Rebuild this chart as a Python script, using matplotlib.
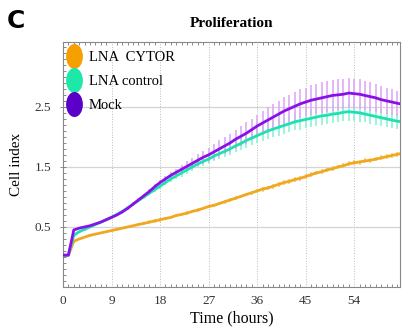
import numpy as np
import matplotlib
matplotlib.use("Agg")
import matplotlib.pyplot as plt
from matplotlib.lines import Line2D
from matplotlib.path import Path
from matplotlib.transforms import Affine2D
from matplotlib.ticker import MultipleLocator

hours = np.arange(0, 64)

mock = [0.03, 0.03, 0.45, 0.48, 0.50, 0.52, 0.55, 0.58, 0.62, 0.66,
        0.70, 0.75, 0.81, 0.88, 0.95, 1.02, 1.09, 1.17, 1.24, 1.30,
        1.36, 1.41, 1.46, 1.51, 1.56, 1.61, 1.66, 1.70, 1.75, 1.80,
        1.85, 1.90, 1.96, 2.01, 2.06, 2.12, 2.18, 2.23, 2.28, 2.33,
        2.38, 2.43, 2.47, 2.51, 2.55, 2.58, 2.61, 2.63, 2.65, 2.67,
        2.69, 2.70, 2.71, 2.73, 2.72, 2.71, 2.69, 2.67, 2.65, 2.62,
        2.60, 2.58, 2.56, 2.54]
lna_ctrl = [0.03, 0.03, 0.36, 0.42, 0.46, 0.50, 0.54, 0.58, 0.62, 0.66,
            0.71, 0.76, 0.82, 0.88, 0.94, 1.00, 1.06, 1.12, 1.18, 1.24,
            1.30, 1.35, 1.40, 1.45, 1.50, 1.55, 1.59, 1.63, 1.68, 1.72,
            1.76, 1.80, 1.85, 1.89, 1.94, 1.98, 2.02, 2.06, 2.10, 2.13,
            2.16, 2.19, 2.22, 2.25, 2.27, 2.29, 2.31, 2.33, 2.35, 2.36,
            2.38, 2.39, 2.41, 2.42, 2.41, 2.40, 2.38, 2.36, 2.34, 2.32,
            2.30, 2.28, 2.26, 2.25]
lna_cytor = [0.03, 0.03, 0.26, 0.30, 0.33, 0.36, 0.38, 0.40, 0.42, 0.44,
             0.46, 0.48, 0.50, 0.52, 0.54, 0.56, 0.58, 0.60, 0.62, 0.64,
             0.66, 0.69, 0.71, 0.73, 0.76, 0.78, 0.81, 0.84, 0.86, 0.89,
             0.92, 0.95, 0.98, 1.01, 1.04, 1.07, 1.10, 1.13, 1.15, 1.18,
             1.21, 1.24, 1.26, 1.29, 1.31, 1.34, 1.37, 1.40, 1.42, 1.45,
             1.47, 1.50, 1.52, 1.55, 1.57, 1.58, 1.60, 1.61, 1.63, 1.65,
             1.67, 1.69, 1.71, 1.73]

# error bar half-widths, read at every hour
mock_err = [0.01, 0.01, 0.02, 0.02, 0.02, 0.02, 0.02, 0.02, 0.02, 0.02,
            0.02, 0.02, 0.03, 0.03, 0.03, 0.03, 0.04, 0.04, 0.04, 0.05,
            0.05, 0.06, 0.07, 0.08, 0.09, 0.10, 0.11, 0.12, 0.13, 0.14,
            0.14, 0.15, 0.16, 0.17, 0.18, 0.18, 0.19, 0.20, 0.21, 0.22,
            0.22, 0.23, 0.23, 0.24, 0.24, 0.24, 0.25, 0.25, 0.26, 0.26,
            0.26, 0.26, 0.25, 0.25, 0.25, 0.25, 0.24, 0.24, 0.23, 0.23,
            0.22, 0.22, 0.21, 0.21]
ctrl_err = [0.01, 0.01, 0.02, 0.02, 0.02, 0.02, 0.02, 0.02, 0.02, 0.02,
            0.02, 0.02, 0.02, 0.03, 0.03, 0.03, 0.03, 0.04, 0.04, 0.04,
            0.05, 0.05, 0.06, 0.06, 0.07, 0.07, 0.08, 0.08, 0.09, 0.09,
            0.10, 0.10, 0.11, 0.11, 0.12, 0.12, 0.12, 0.13, 0.13, 0.13,
            0.14, 0.14, 0.14, 0.14, 0.15, 0.15, 0.15, 0.15, 0.15, 0.15,
            0.15, 0.15, 0.15, 0.15, 0.15, 0.15, 0.14, 0.14, 0.14, 0.14,
            0.14, 0.14, 0.13, 0.13]
cytor_err = [0.01, 0.01, 0.02, 0.02, 0.02, 0.02, 0.02, 0.02, 0.02, 0.02,
             0.02, 0.02, 0.02, 0.02, 0.02, 0.02, 0.03, 0.03, 0.03, 0.03,
             0.03, 0.03, 0.03, 0.03, 0.03, 0.03, 0.03, 0.03, 0.03, 0.03,
             0.03, 0.03, 0.03, 0.03, 0.03, 0.03, 0.03, 0.04, 0.04, 0.04,
             0.04, 0.04, 0.04, 0.04, 0.04, 0.04, 0.04, 0.04, 0.04, 0.04,
             0.04, 0.04, 0.04, 0.04, 0.04, 0.04, 0.04, 0.04, 0.04, 0.04,
             0.04, 0.04, 0.04, 0.04]

labels = ["LNA  CYTOR", "LNA control", "Mock"]
line_colors = ["#efa820", "#1fe0b0", "#8a10e8"]
err_colors = ["#f6cf70", "#8ef2d6", "#deaaf7"]
legend_colors = ["#f5a000", "#1ee8a8", "#5a00c8"]

serif = ["Liberation Serif", "DejaVu Serif"]
plt.rcParams["font.family"] = serif

fig = plt.figure(figsize=(4.03, 3.29), dpi=100)
ax = fig.add_axes([63 / 403, 42 / 329, 337 / 403, 245 / 329])

series = [lna_cytor, lna_ctrl, mock]
errs = [cytor_err, ctrl_err, mock_err]
for vals, err, ec in zip(series, errs, err_colors):
    ax.errorbar(hours, vals, yerr=err, fmt="none", ecolor=ec,
                elinewidth=1.2, capsize=0, zorder=2)
for vals, lc in zip(series, line_colors):
    ax.plot(hours, vals, color=lc, lw=2.0, zorder=3)

ax.set_xlim(0, 62.5)
ax.set_ylim(-0.5, 3.58)
ax.set_xticks([0, 9, 18, 27, 36, 45, 54])
ax.set_yticks([0.5, 1.5, 2.5])
ax.xaxis.set_minor_locator(MultipleLocator(1))
ax.yaxis.set_minor_locator(MultipleLocator(0.1))
ax.tick_params(which="minor", direction="in", length=2.5, width=0.6,
               color="#777777", top=True)
ax.tick_params(which="major", direction="inout", length=5, width=0.6,
               color="#777777", labelsize=9.5, labelcolor="#333333", pad=6)
ax.tick_params(axis="x", which="major", length=0)

ax.grid(axis="y", which="major", color="#d4d4d4", lw=0.9)
ax.grid(axis="x", which="major", color="#bbbbbb", lw=0.7, ls=":")
for s in ax.spines.values():
    s.set_color("#888888")
    s.set_linewidth(0.8)

ax.set_xlabel("Time (hours)", fontsize=11.5, labelpad=2)
ax.set_ylabel("Cell index", fontsize=11, labelpad=8)
ax.set_title("Proliferation", fontsize=11, fontweight="bold", pad=11)
fig.text(7 / 403, 1 - 21 / 329, "C", fontsize=18, fontweight="bold",
         family="DejaVu Sans", va="center")

oval = Path.unit_circle().transformed(Affine2D().scale(0.65, 1.0))
handles = [Line2D([], [], ls="none", marker=oval, markersize=17,
                  markerfacecolor=c, markeredgecolor=c) for c in legend_colors]
ax.legend(handles, labels, loc="upper left", frameon=False, fontsize=10.5,
          handlelength=0.8, handletextpad=0.6, labelspacing=0.75,
          borderaxespad=0.2, bbox_to_anchor=(-0.01, 1.0))

fig.savefig("out.png", dpi=100)
